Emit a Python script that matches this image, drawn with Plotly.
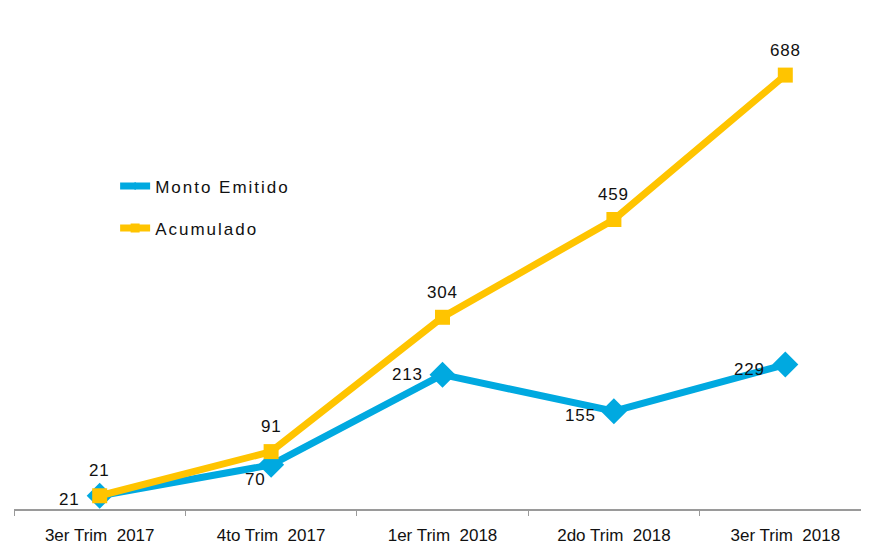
import plotly.graph_objects as go

categories = ["3er Trim  2017", "4to Trim  2017", "1er Trim  2018", "2do Trim  2018", "3er Trim  2018"]
monto_emitido = [21, 70, 213, 155, 229]
acumulado = [21, 91, 304, 459, 688]

BLUE = "#00A9E0"
YELLOW = "#FFC400"
FONT = "Liberation Sans, Arial, sans-serif"

fig = go.Figure()
fig.add_trace(go.Scatter(
    x=categories, y=monto_emitido, name="Monto Emitido", mode="lines+markers",
    line=dict(color=BLUE, width=7),
    marker=dict(symbol="diamond", size=20, color=BLUE),
    showlegend=False,
))
fig.add_trace(go.Scatter(
    x=categories, y=acumulado, name="Acumulado", mode="lines+markers",
    line=dict(color=YELLOW, width=7),
    marker=dict(symbol="square", size=15, color=YELLOW),
    showlegend=False,
))
# legend entries (small markers like the original legend)
fig.add_trace(go.Scatter(
    x=[None], y=[None], mode="lines+markers",
    name='<span style="letter-spacing:2px">Monto Emitido</span>',
    line=dict(color=BLUE, width=7), marker=dict(symbol="diamond", size=6, color=BLUE),
    legendgroup="a",
))
fig.add_trace(go.Scatter(
    x=[None], y=[None], mode="lines+markers",
    name='<span style="letter-spacing:2px">Acumulado</span>',
    line=dict(color=YELLOW, width=7), marker=dict(symbol="square", size=9, color=YELLOW),
    legendgroup="b",
))

# data labels
monto_shift = [(-30, -4), (-16, -15), (-35, 0), (-33, -4), (-36, -5)]
for c, v, (dx, dy) in zip(categories, monto_emitido, monto_shift):
    fig.add_annotation(x=c, y=v, text='<span style="letter-spacing:0.8px">%d</span>' % v,
                       showarrow=False, xshift=dx, yshift=dy,
                       font=dict(family=FONT, size=17, color="#111"))
for c, v in zip(categories, acumulado):
    fig.add_annotation(x=c, y=v, text='<span style="letter-spacing:0.8px">%d</span>' % v,
                       showarrow=False, yshift=25,
                       font=dict(family=FONT, size=17, color="#111"))

fig.update_layout(
    width=869, height=546,
    margin=dict(l=6, r=6, t=28, b=45),
    paper_bgcolor="white", plot_bgcolor="white",
    font=dict(family=FONT, size=16, color="#111"),
    showlegend=True,
    legend=dict(x=0.118, y=0.72, xanchor="left", yanchor="top",
                traceorder="grouped", tracegroupgap=17,
                font=dict(family=FONT, size=17, color="#111"),
                bgcolor="rgba(0,0,0,0)"),
    xaxis=dict(showline=True, linecolor="#9a9a9a", linewidth=1.5,
               ticks="outside", tickson="boundaries", ticklen=5, tickcolor="#9a9a9a",
               ticklabelstandoff=10,
               showgrid=False, tickfont=dict(family=FONT, size=17, color="#111"),
               range=[-0.5, 4.5]),
    yaxis=dict(visible=False, range=[0, 750], showgrid=False, zeroline=False),
)

fig.write_html("out.html")
